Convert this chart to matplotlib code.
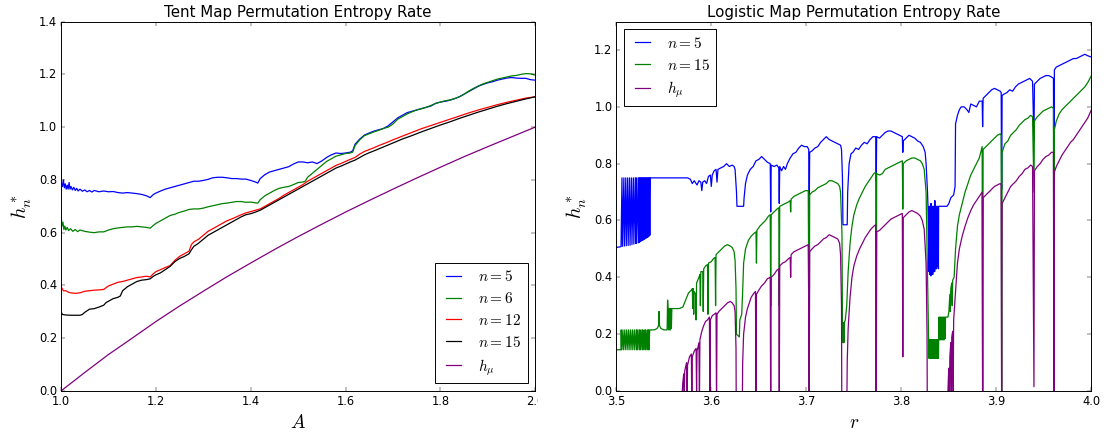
import numpy as np
import matplotlib
matplotlib.use('Agg')
import matplotlib.pyplot as plt
from matplotlib.transforms import Bbox, TransformedBbox

plt.style.use('classic')

# ---------------- tent map (left panel) ----------------
tent_n5 = [(1.000,0.84),(1.001,0.785),(1.003,0.775),(1.005,0.80),(1.007,0.77),(1.009,0.785),(1.011,0.765),
           (1.013,0.78),(1.015,0.765),(1.017,0.79),(1.019,0.765),(1.021,0.775),(1.024,0.762),(1.027,0.772),
           (1.030,0.76),(1.033,0.768),(1.036,0.758),(1.040,0.765),(1.045,0.757),(1.050,0.762),(1.055,0.755),
           (1.060,0.76),(1.065,0.754),(1.070,0.76),(1.080,0.755),(1.090,0.758),(1.100,0.755),(1.110,0.756),
           (1.120,0.752),(1.130,0.75),(1.140,0.752),(1.150,0.75),(1.160,0.748),(1.170,0.745),(1.180,0.74),
           (1.188,0.733),(1.195,0.745),(1.200,0.75),(1.210,0.758),(1.220,0.765),(1.230,0.77),(1.240,0.775),
           (1.250,0.78),(1.260,0.785),(1.270,0.79),(1.280,0.795),(1.290,0.795),(1.300,0.798),(1.310,0.802),
           (1.320,0.808),(1.330,0.81),(1.340,0.81),(1.350,0.808),(1.360,0.805),(1.370,0.805),(1.380,0.803),
           (1.390,0.803),(1.400,0.798),(1.410,0.792),(1.415,0.788),(1.420,0.805),(1.430,0.82),(1.440,0.83),
           (1.450,0.835),(1.460,0.84),(1.470,0.845),(1.480,0.85),(1.490,0.86),(1.500,0.868),(1.510,0.868),
           (1.520,0.865),(1.530,0.868),(1.540,0.862),(1.550,0.872),(1.560,0.885),(1.570,0.895),(1.580,0.902),
           (1.590,0.90),(1.600,0.902),(1.610,0.905),(1.615,0.91),(1.620,0.935),(1.630,0.955),(1.640,0.97),
           (1.650,0.978),(1.660,0.985),(1.670,0.99),(1.680,0.995),(1.690,1.005),(1.700,1.02),(1.710,1.035),
           (1.720,1.045),(1.730,1.055),(1.740,1.06),(1.750,1.065),(1.760,1.07),(1.770,1.075),(1.780,1.08),
           (1.790,1.09),(1.800,1.095),(1.810,1.098),(1.820,1.102),(1.830,1.108),(1.840,1.115),(1.850,1.125),
           (1.860,1.135),(1.870,1.145),(1.880,1.155),(1.890,1.162),(1.900,1.168),(1.910,1.172),(1.920,1.178),
           (1.930,1.182),(1.940,1.186),(1.950,1.188),(1.960,1.186),(1.970,1.185),(1.980,1.185),(1.990,1.18),
           (2.000,1.178)]

tent_n6 = [(1.000,0.665),(1.002,0.625),(1.004,0.64),(1.006,0.612),(1.008,0.625),(1.010,0.61),(1.013,0.62),
           (1.016,0.608),(1.020,0.615),(1.025,0.605),(1.030,0.612),(1.035,0.604),(1.040,0.61),(1.050,0.605),
           (1.060,0.602),(1.070,0.60),(1.080,0.603),(1.090,0.603),(1.100,0.61),
           (1.110,0.615),(1.120,0.618),(1.130,0.62),(1.140,0.622),(1.150,0.622),(1.160,0.624),(1.170,0.622),
           (1.180,0.62),(1.188,0.617),(1.195,0.628),(1.200,0.635),(1.210,0.645),(1.220,0.655),(1.230,0.665),
           (1.240,0.67),(1.250,0.677),(1.260,0.682),(1.270,0.688),(1.280,0.69),(1.290,0.69),(1.300,0.693),
           (1.310,0.698),(1.320,0.702),(1.330,0.706),(1.340,0.71),(1.350,0.712),(1.360,0.715),(1.370,0.718),
           (1.380,0.718),(1.390,0.715),(1.400,0.716),(1.410,0.713),(1.415,0.712),(1.420,0.725),(1.430,0.74),
           (1.440,0.75),(1.450,0.76),(1.460,0.768),(1.470,0.772),(1.480,0.775),(1.490,0.782),(1.500,0.79),
           (1.510,0.792),(1.515,0.795),(1.520,0.81),(1.530,0.825),(1.540,0.84),(1.550,0.855),(1.560,0.87),
           (1.570,0.88),(1.580,0.89),(1.590,0.895),(1.600,0.90),(1.610,0.902),(1.615,0.905),(1.620,0.93),
           (1.630,0.952),(1.640,0.968),(1.650,0.975),(1.660,0.982),(1.670,0.988),(1.680,0.995),(1.690,1.0),
           (1.700,1.012),(1.710,1.03),(1.720,1.04),(1.730,1.05),(1.740,1.058),(1.750,1.065),(1.760,1.07),
           (1.770,1.075),(1.780,1.082),(1.790,1.09),(1.800,1.095),(1.810,1.1),(1.820,1.103),(1.830,1.108),
           (1.840,1.115),(1.850,1.125),(1.860,1.137),(1.870,1.147),(1.880,1.156),(1.890,1.164),(1.900,1.17),
           (1.910,1.176),(1.920,1.182),(1.930,1.186),(1.940,1.19),(1.950,1.194),(1.960,1.196),(1.970,1.2),
           (1.980,1.203),(1.990,1.202),(2.000,1.197)]

tent_n12 = [(1.000,0.395),(1.005,0.38),(1.010,0.38),(1.015,0.375),(1.020,0.372),(1.030,0.37),(1.040,0.372),
            (1.050,0.378),(1.060,0.38),(1.070,0.382),(1.080,0.383),(1.090,0.385),(1.100,0.398),(1.110,0.405),
            (1.120,0.412),(1.130,0.415),(1.140,0.42),(1.150,0.425),(1.160,0.43),(1.170,0.432),(1.180,0.435),
            (1.188,0.432),(1.195,0.445),(1.200,0.452),(1.210,0.46),(1.220,0.468),(1.230,0.475),(1.240,0.495),
            (1.250,0.51),(1.260,0.52),(1.270,0.53),(1.275,0.555),(1.280,0.565),(1.290,0.575),(1.300,0.59),
            (1.310,0.605),(1.320,0.615),(1.330,0.625),(1.340,0.635),(1.350,0.645),(1.360,0.652),(1.370,0.66),
            (1.380,0.668),(1.390,0.675),(1.400,0.68),(1.410,0.685),(1.420,0.69),(1.430,0.70),(1.440,0.71),
            (1.450,0.72),(1.460,0.73),(1.470,0.742),(1.480,0.752),(1.490,0.762),(1.500,0.772),(1.510,0.782),
            (1.520,0.795),(1.530,0.805),(1.540,0.815),(1.550,0.825),(1.560,0.835),(1.570,0.845),(1.580,0.855),
            (1.590,0.862),(1.600,0.87),(1.610,0.878),(1.620,0.885),(1.630,0.898),(1.640,0.908),(1.650,0.915),
            (1.660,0.922),(1.670,0.93),(1.680,0.937),(1.690,0.944),(1.700,0.952),(1.720,0.966),(1.740,0.98),
            (1.760,0.994),(1.780,1.006),(1.800,1.018),(1.820,1.03),(1.840,1.042),(1.860,1.054),(1.880,1.065),
            (1.900,1.075),(1.920,1.085),(1.940,1.094),(1.960,1.102),(1.980,1.11),(2.000,1.115)]

tent_n15 = [(1.000,0.30),(1.003,0.29),(1.010,0.288),(1.020,0.287),(1.030,0.287),(1.040,0.287),(1.045,0.29),
            (1.050,0.298),(1.060,0.31),(1.070,0.312),(1.080,0.318),(1.090,0.325),(1.095,0.335),(1.100,0.34),
            (1.110,0.35),(1.120,0.355),(1.125,0.36),(1.130,0.38),(1.140,0.395),(1.150,0.405),(1.160,0.415),
            (1.170,0.42),(1.180,0.422),(1.188,0.425),(1.195,0.435),(1.200,0.44),(1.210,0.448),(1.220,0.46),
            (1.230,0.472),(1.240,0.49),(1.250,0.502),(1.260,0.51),(1.270,0.52),(1.275,0.535),(1.280,0.548),
            (1.290,0.56),(1.300,0.575),(1.310,0.59),(1.320,0.60),(1.330,0.61),(1.340,0.62),(1.350,0.63),
            (1.360,0.64),(1.370,0.65),(1.380,0.66),(1.390,0.668),(1.400,0.672),(1.410,0.678),(1.420,0.685),
            (1.430,0.695),(1.440,0.705),(1.450,0.715),(1.460,0.725),(1.470,0.735),(1.480,0.745),(1.490,0.755),
            (1.500,0.765),(1.510,0.775),(1.520,0.785),(1.530,0.795),(1.540,0.805),(1.550,0.815),(1.560,0.825),
            (1.570,0.835),(1.580,0.845),(1.590,0.852),(1.600,0.86),(1.610,0.868),(1.620,0.875),(1.630,0.885),
            (1.640,0.895),(1.650,0.903),(1.660,0.91),(1.680,0.925),(1.700,0.94),(1.720,0.955),(1.740,0.968),
            (1.760,0.982),(1.780,0.995),(1.800,1.008),(1.820,1.02),(1.840,1.033),(1.860,1.045),(1.880,1.057),
            (1.900,1.068),(1.920,1.079),(1.940,1.089),(1.960,1.098),(1.980,1.107),(2.000,1.115)]

tent_hmu = [(1.00,0.0),(1.05,0.07),(1.10,0.138),(1.15,0.20),(1.20,0.263),(1.25,0.322),(1.30,0.378),
            (1.35,0.433),(1.40,0.485),(1.45,0.536),(1.50,0.585),(1.55,0.632),(1.60,0.678),(1.65,0.722),
            (1.70,0.765),(1.75,0.807),(1.80,0.848),(1.85,0.888),(1.90,0.926),(1.95,0.963),(2.00,1.0)]

# ---------------- logistic map (right panel) ----------------
logistic_n5 = [(3.500,0.505),(3.505,0.508),
    (3.506,0.75),(3.5065,0.509),(3.508,0.75),(3.5085,0.510),(3.510,0.75),(3.5105,0.511),
    (3.512,0.75),(3.5125,0.512),(3.514,0.75),(3.5145,0.513),(3.516,0.75),(3.5165,0.515),
    (3.518,0.75),(3.5185,0.517),(3.520,0.75),(3.5205,0.519),(3.521,0.75),(3.5215,0.520),
    (3.523,0.75),(3.5235,0.522),(3.524,0.75),(3.5245,0.524),(3.525,0.75),(3.5255,0.526),
    (3.526,0.75),(3.5265,0.528),(3.527,0.75),(3.5275,0.530),(3.528,0.75),(3.5285,0.532),
    (3.529,0.75),(3.5295,0.534),(3.530,0.75),(3.5305,0.536),(3.531,0.75),(3.5315,0.538),
    (3.532,0.75),(3.5325,0.540),(3.533,0.75),(3.5335,0.542),(3.534,0.75),(3.5345,0.545),
    (3.535,0.75),(3.5353,0.548),(3.5356,0.75),
    (3.575,0.75),(3.578,0.745),(3.580,0.73),(3.582,0.74),(3.585,0.725),(3.587,0.74),(3.589,0.735),
    (3.590,0.705),(3.591,0.735),(3.593,0.74),(3.595,0.73),(3.597,0.755),(3.599,0.76),(3.600,0.72),
    (3.601,0.76),(3.603,0.775),(3.605,0.78),(3.606,0.735),(3.607,0.78),(3.610,0.785),(3.613,0.79),
    (3.616,0.80),(3.619,0.79),(3.622,0.795),(3.624,0.79),(3.625,0.78),(3.6265,0.70),(3.627,0.65),
    (3.634,0.65),(3.6345,0.68),(3.636,0.73),(3.638,0.76),(3.641,0.78),(3.644,0.79),(3.647,0.81),
    (3.650,0.815),(3.653,0.825),(3.656,0.815),(3.659,0.805),(3.662,0.80),(3.6625,0.63),(3.663,0.795),
    (3.666,0.79),(3.669,0.795),(3.671,0.785),(3.6715,0.66),(3.672,0.79),(3.674,0.775),(3.676,0.79),
    (3.678,0.78),(3.680,0.80),(3.683,0.82),(3.686,0.835),(3.689,0.84),(3.692,0.855),(3.695,0.865),
    (3.698,0.86),(3.701,0.86),(3.7025,0.85),(3.703,0.62),(3.7035,0.84),(3.706,0.845),(3.709,0.855),
    (3.712,0.86),(3.715,0.875),(3.718,0.885),(3.721,0.895),(3.724,0.885),(3.727,0.88),(3.730,0.875),
    (3.733,0.87),(3.736,0.865),(3.737,0.85),(3.738,0.75),(3.7385,0.585),(3.743,0.585),(3.7435,0.70),
    (3.745,0.80),(3.747,0.835),(3.749,0.84),(3.752,0.855),(3.755,0.85),(3.758,0.865),(3.761,0.875),
    (3.764,0.87),(3.767,0.885),(3.770,0.895),(3.773,0.895),(3.7735,0.74),(3.774,0.895),(3.777,0.89),
    (3.780,0.90),(3.783,0.91),(3.786,0.915),(3.789,0.915),(3.792,0.91),(3.795,0.905),(3.798,0.90),
    (3.801,0.895),(3.8015,0.84),(3.802,0.88),(3.805,0.89),(3.808,0.90),(3.811,0.895),(3.814,0.89),
    (3.817,0.88),(3.820,0.875),(3.823,0.86),(3.825,0.84),(3.826,0.80),(3.8275,0.70),(3.828,0.65),
    (3.829,0.42),(3.8292,0.65),(3.830,0.41),(3.8302,0.65),(3.831,0.405),(3.8312,0.66),(3.832,0.41),
    (3.8322,0.65),(3.833,0.41),(3.8332,0.65),(3.834,0.42),(3.8342,0.65),(3.835,0.42),(3.8352,0.67),
    (3.836,0.43),(3.8362,0.65),(3.837,0.43),(3.8372,0.65),(3.838,0.44),(3.8382,0.65),(3.839,0.43),
    (3.8392,0.65),
    (3.848,0.65),(3.850,0.66),(3.852,0.68),(3.855,0.69),(3.8565,0.72),(3.857,0.94),(3.859,0.97),
    (3.861,0.99),(3.863,1.00),(3.866,1.0),(3.869,0.99),(3.871,0.98),(3.873,1.01),(3.876,1.005),
    (3.879,1.0),(3.882,1.02),(3.885,1.02),(3.8855,0.93),(3.886,1.03),(3.889,1.04),(3.892,1.05),
    (3.895,1.06),(3.898,1.065),(3.901,1.06),(3.904,1.055),(3.905,1.05),(3.9055,0.71),(3.906,1.04),
    (3.908,1.045),(3.911,1.05),(3.914,1.06),(3.917,1.055),(3.920,1.07),(3.923,1.08),(3.926,1.085),
    (3.929,1.09),(3.932,1.095),(3.935,1.10),(3.938,1.09),(3.9395,0.88),(3.940,1.08),(3.943,1.09),
    (3.946,1.10),(3.949,1.105),(3.952,1.11),(3.955,1.11),(3.958,1.105),(3.960,1.10),(3.9605,0.61),
    (3.961,1.13),(3.963,1.14),(3.966,1.145),(3.969,1.15),(3.972,1.155),(3.975,1.16),(3.978,1.165),
    (3.981,1.17),(3.984,1.17),(3.987,1.175),(3.990,1.18),(3.993,1.185),(3.996,1.18),(4.000,1.175)]

logistic_n15 = [(3.500,0.145),(3.505,0.145),
    (3.5052,0.215),(3.5056,0.145),(3.507,0.215),(3.5074,0.145),(3.509,0.215),(3.5094,0.145),
    (3.511,0.215),(3.5114,0.145),(3.513,0.215),(3.5134,0.145),(3.515,0.215),(3.5154,0.145),
    (3.517,0.215),(3.5174,0.145),(3.519,0.215),(3.5194,0.145),(3.521,0.215),(3.5214,0.145),
    (3.522,0.215),(3.5224,0.145),(3.524,0.215),(3.5244,0.145),(3.525,0.215),(3.5254,0.145),
    (3.527,0.215),(3.5274,0.145),(3.528,0.215),(3.5284,0.145),(3.530,0.215),(3.5304,0.145),
    (3.531,0.215),(3.5314,0.145),(3.533,0.215),(3.5334,0.145),(3.534,0.215),(3.5344,0.145),
    (3.5352,0.215),(3.540,0.215),(3.543,0.22),(3.5445,0.23),(3.545,0.28),(3.5455,0.23),(3.547,0.22),
    (3.550,0.215),(3.5535,0.215),(3.554,0.32),(3.5545,0.29),(3.555,0.215),(3.5555,0.29),(3.556,0.215),
    (3.5565,0.29),(3.557,0.215),(3.5575,0.29),(3.558,0.22),(3.5585,0.29),(3.566,0.29),(3.570,0.295),
    (3.573,0.32),(3.576,0.345),(3.579,0.355),(3.580,0.36),(3.5805,0.29),(3.581,0.36),(3.5815,0.27),
    (3.582,0.35),(3.5835,0.34),(3.584,0.25),(3.5845,0.38),(3.587,0.40),(3.588,0.41),(3.5885,0.30),
    (3.589,0.42),(3.591,0.42),(3.5915,0.28),(3.592,0.43),(3.594,0.44),(3.596,0.445),(3.5965,0.27),
    (3.597,0.45),(3.600,0.455),(3.602,0.465),(3.604,0.47),(3.6045,0.30),(3.605,0.48),(3.608,0.49),
    (3.611,0.50),(3.614,0.51),(3.617,0.515),(3.620,0.51),(3.622,0.505),(3.624,0.49),(3.625,0.46),
    (3.626,0.36),(3.6265,0.20),(3.6295,0.19),(3.630,0.25),(3.632,0.27),(3.633,0.35),(3.634,0.45),
    (3.636,0.50),(3.639,0.53),(3.642,0.545),(3.645,0.555),(3.647,0.56),(3.6475,0.45),(3.648,0.565),
    (3.651,0.58),(3.654,0.59),(3.657,0.60),(3.660,0.615),(3.662,0.62),(3.6625,0.30),(3.663,0.62),
    (3.666,0.63),(3.669,0.64),(3.671,0.645),(3.6715,0.30),(3.672,0.65),(3.675,0.655),(3.678,0.66),
    (3.681,0.665),(3.683,0.67),(3.6835,0.63),(3.684,0.675),(3.687,0.685),(3.690,0.69),(3.693,0.695),
    (3.696,0.70),(3.699,0.705),(3.702,0.705),(3.7025,0.40),(3.703,0.00),(3.7035,0.69),(3.706,0.70),
    (3.709,0.705),(3.712,0.715),(3.715,0.72),(3.718,0.725),(3.721,0.73),(3.724,0.74),(3.727,0.74),
    (3.730,0.735),(3.733,0.73),(3.735,0.72),(3.736,0.70),(3.7375,0.55),(3.738,0.24),(3.7385,0.17),
    (3.739,0.24),(3.7395,0.17),(3.740,0.24),(3.741,0.25),(3.7425,0.30),(3.744,0.42),(3.746,0.52),
    (3.748,0.58),(3.750,0.62),(3.753,0.655),(3.756,0.68),(3.759,0.70),(3.762,0.72),(3.765,0.735),
    (3.768,0.75),(3.771,0.765),(3.773,0.77),(3.7735,0.0),(3.774,0.765),(3.777,0.76),(3.780,0.765),
    (3.783,0.78),(3.786,0.785),(3.789,0.79),(3.792,0.795),(3.795,0.80),(3.798,0.805),(3.801,0.81),
    (3.8015,0.64),(3.802,0.80),(3.805,0.81),(3.808,0.815),(3.811,0.82),(3.814,0.82),(3.817,0.815),
    (3.820,0.81),(3.822,0.80),(3.824,0.78),(3.826,0.70),(3.827,0.50),(3.828,0.30),(3.8285,0.18),
    (3.829,0.115),(3.8293,0.18),(3.830,0.115),(3.8303,0.18),(3.831,0.115),(3.8313,0.18),(3.832,0.115),
    (3.8323,0.18),(3.833,0.115),(3.8333,0.18),(3.834,0.115),(3.8343,0.18),(3.835,0.115),(3.8353,0.18),
    (3.836,0.115),(3.8363,0.18),(3.837,0.115),(3.8373,0.18),(3.838,0.115),(3.8383,0.18),(3.839,0.115),
    (3.8393,0.18),(3.8396,0.26),(3.840,0.18),(3.8405,0.26),(3.841,0.18),(3.8415,0.26),(3.842,0.18),
    (3.8425,0.26),(3.843,0.18),(3.8435,0.26),(3.844,0.18),(3.8445,0.26),(3.845,0.18),(3.8455,0.26),
    (3.846,0.185),(3.8465,0.26),(3.849,0.26),(3.850,0.28),(3.851,0.34),(3.8515,0.28),(3.852,0.36),
    (3.853,0.38),(3.8535,0.30),(3.854,0.39),(3.8555,0.40),(3.857,0.50),(3.859,0.58),(3.861,0.62),
    (3.864,0.66),(3.867,0.70),(3.870,0.73),(3.873,0.76),(3.876,0.78),(3.879,0.80),(3.882,0.82),
    (3.885,0.86),(3.8855,0.0),(3.886,0.85),(3.889,0.86),(3.892,0.87),(3.895,0.88),(3.898,0.89),
    (3.901,0.90),(3.904,0.905),(3.905,0.90),(3.9055,0.0),(3.906,0.84),(3.909,0.87),(3.912,0.88),
    (3.915,0.90),(3.918,0.91),(3.921,0.92),(3.924,0.935),(3.927,0.945),(3.930,0.955),(3.933,0.96),
    (3.936,0.97),(3.938,0.965),(3.9395,0.70),(3.940,0.95),(3.943,0.965),(3.946,0.975),(3.949,0.985),
    (3.952,0.99),(3.955,0.995),(3.958,1.0),(3.960,0.995),(3.9605,0.0),(3.961,0.92),(3.963,0.95),
    (3.966,0.975),(3.969,0.99),(3.972,1.0),(3.975,1.01),(3.978,1.02),(3.981,1.03),(3.984,1.04),
    (3.987,1.05),(3.990,1.06),(3.993,1.07),(3.996,1.085),(4.000,1.11)]

# negative values are the periodic windows, they run below the axis
logistic_hmu = [(3.500,-0.5),(3.568,-0.05),(3.5695,0.0),(3.570,0.03),(3.571,0.06),(3.5715,-0.05),
    (3.572,0.07),(3.574,0.10),(3.5745,-0.05),(3.575,0.09),(3.577,0.12),(3.579,0.13),(3.5795,-0.05),
    (3.580,0.12),(3.582,0.14),(3.584,0.15),(3.5845,0.0),(3.585,0.14),(3.587,0.17),(3.5875,-0.05),
    (3.588,0.18),(3.590,0.21),(3.592,0.23),(3.594,0.245),(3.596,0.25),(3.598,0.26),(3.5985,-0.05),
    (3.599,0.25),(3.601,0.265),(3.603,0.27),(3.605,0.275),(3.6055,-0.05),(3.606,0.27),(3.608,0.28),
    (3.611,0.29),(3.614,0.30),(3.617,0.31),(3.620,0.315),(3.622,0.31),(3.624,0.30),(3.625,0.28),
    (3.626,0.15),(3.6265,-0.3),(3.632,-0.3),(3.633,0.10),(3.634,0.20),(3.636,0.26),(3.638,0.29),
    (3.640,0.31),(3.642,0.33),(3.645,0.345),(3.6465,0.35),(3.647,-0.1),(3.6475,0.34),(3.650,0.355),
    (3.653,0.37),(3.656,0.38),(3.659,0.395),(3.662,0.40),(3.6625,-0.1),(3.663,0.40),(3.666,0.41),
    (3.669,0.425),(3.671,0.43),(3.6715,-0.1),(3.672,0.44),(3.675,0.45),(3.678,0.455),(3.681,0.465),
    (3.683,0.47),(3.6835,0.40),(3.684,0.48),(3.687,0.49),(3.690,0.495),(3.693,0.50),(3.696,0.505),
    (3.699,0.51),(3.702,0.515),(3.7025,0.30),(3.703,-0.1),(3.7035,0.49),(3.706,0.50),(3.709,0.51),
    (3.712,0.515),(3.715,0.525),(3.718,0.535),(3.721,0.54),(3.724,0.55),(3.727,0.545),(3.730,0.54),
    (3.733,0.535),(3.735,0.52),(3.736,0.48),(3.737,0.30),(3.7375,-0.3),(3.742,-0.3),(3.743,0.10),
    (3.744,0.22),(3.746,0.33),(3.748,0.40),(3.750,0.44),(3.753,0.475),(3.756,0.50),(3.759,0.52),
    (3.762,0.54),(3.765,0.555),(3.768,0.57),(3.771,0.58),(3.773,0.585),(3.7735,-0.1),(3.774,0.56),
    (3.777,0.565),(3.780,0.575),(3.783,0.585),(3.786,0.595),(3.789,0.605),(3.792,0.61),(3.795,0.615),
    (3.798,0.62),(3.801,0.625),(3.8015,0.12),(3.802,0.61),(3.805,0.62),(3.808,0.63),(3.811,0.635),
    (3.814,0.63),(3.817,0.625),(3.820,0.615),(3.822,0.60),(3.824,0.57),(3.826,0.45),(3.827,0.20),
    (3.8275,-0.3),(3.8485,-0.3),(3.849,0.0),(3.8495,0.05),(3.850,0.08),(3.8505,-0.05),(3.851,0.12),
    (3.852,0.17),(3.8525,-0.05),(3.853,0.19),(3.854,0.21),(3.8545,0.0),(3.855,0.25),(3.857,0.35),
    (3.859,0.45),(3.861,0.50),(3.864,0.545),(3.867,0.58),(3.870,0.61),(3.873,0.635),(3.876,0.655),
    (3.879,0.67),(3.882,0.685),(3.885,0.70),(3.8855,-0.1),(3.886,0.68),(3.889,0.69),(3.892,0.70),
    (3.895,0.71),(3.898,0.72),(3.901,0.725),(3.904,0.73),(3.905,0.725),(3.9055,-0.1),(3.906,0.66),
    (3.909,0.68),(3.912,0.70),(3.915,0.72),(3.918,0.73),(3.921,0.74),(3.924,0.755),(3.927,0.765),
    (3.930,0.78),(3.933,0.785),(3.936,0.795),(3.938,0.79),(3.9395,0.015),(3.940,0.775),(3.943,0.79),
    (3.946,0.80),(3.949,0.815),(3.952,0.825),(3.955,0.83),(3.958,0.84),(3.960,0.84),(3.9605,-0.1),
    (3.961,0.77),(3.963,0.79),(3.966,0.81),(3.969,0.83),(3.972,0.845),(3.975,0.86),(3.978,0.875),
    (3.981,0.885),(3.984,0.90),(3.987,0.915),(3.990,0.93),(3.993,0.945),(3.996,0.96),(4.000,0.99)]

tent_series = [(tent_n5, 'b', r'$n=5$'), (tent_n6, 'g', r'$n=6$'), (tent_n12, 'r', r'$n=12$'),
               (tent_n15, 'k', r'$n=15$'), (tent_hmu, 'purple', r'$h_\mu$')]
logistic_series = [(logistic_n5, 'b', r'$n=5$'), (logistic_n15, 'g', r'$n=15$'),
                   (logistic_hmu, 'purple', r'$h_\mu$')]

DPI = 69
fig = plt.figure(figsize=(1107.4 / DPI, 432.4 / DPI), dpi=DPI, facecolor='white')
ax1 = fig.add_axes([0.0551, 0.0949, 0.4282, 0.8542])
ax2 = fig.add_axes([0.5565, 0.0949, 0.4291, 0.8542])

for pts, c, lab in tent_series:
    a = np.array(pts)
    ax1.plot(a[:, 0], a[:, 1], color=c, label=lab, lw=1.3)
for pts, c, lab in logistic_series:
    a = np.array(pts)
    ax2.plot(a[:, 0], a[:, 1], color=c, label=lab, lw=1.3)

ax1.set_title('Tent Map Permutation Entropy Rate', fontsize=15.7)
ax1.set_xlabel(r'$A$', fontsize=20)
ax1.set_ylabel(r'$h_n^*$', fontsize=21)
ax1.set_xlim(1.0, 2.0)
ax1.set_ylim(0.0, 1.4)
ax1.set_xticks(np.arange(1.0, 2.01, 0.2))
ax1.legend(loc='lower right', fontsize=16, handlelength=1.6, labelspacing=0.45)

ax2.set_title('Logistic Map Permutation Entropy Rate', fontsize=15.7)
ax2.set_xlabel(r'$r$', fontsize=20)
ax2.set_ylabel(r'$h_n^*$', fontsize=21)
ax2.set_xlim(3.5, 4.0)
ax2.set_ylim(0.0, 1.3)
ax2.set_yticks(np.arange(0.0, 1.21, 0.2))
ax2.legend(loc='upper left', fontsize=16, handlelength=1.6, labelspacing=0.45)

# the left panel was cut off just right of its frame, so "2.0" is clipped
clip = TransformedBbox(Bbox([[0, 0], [538.0 / 1107, 1]]), fig.transFigure)
last = ax1.xaxis.get_major_ticks()[-1]
last.label1.set_clip_box(clip)
last.label1.set_clip_on(True)

fig.savefig('out.png', dpi=DPI, facecolor='white')
